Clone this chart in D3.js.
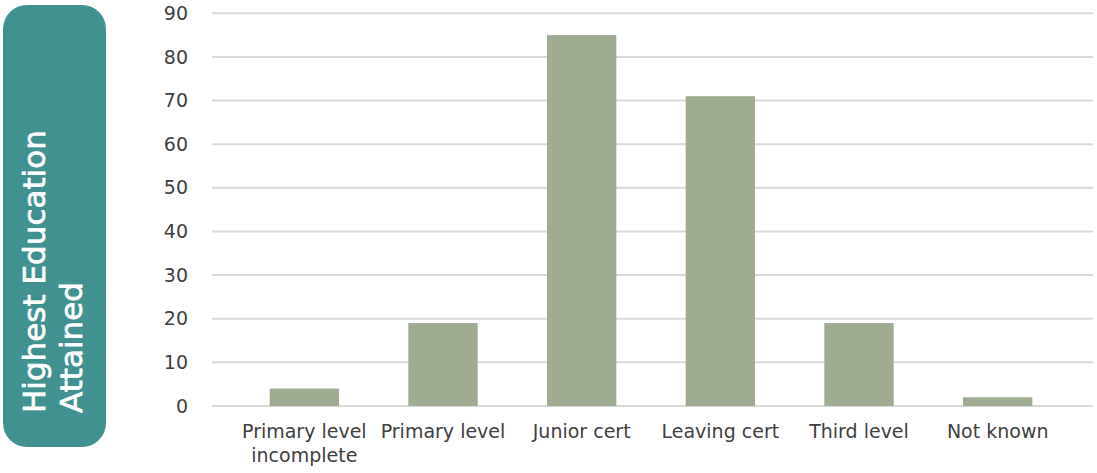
<!DOCTYPE html>
<html>
<head>
<meta charset="utf-8">
<script src="https://cdn.jsdelivr.net/npm/d3@7"></script>
<style>
  html, body { margin: 0; padding: 0; background: #ffffff; }
  svg { display: block; }
</style>
</head>
<body>
<svg id="chart" width="1097" height="473"></svg>
<script>
// Education levels and counts
const categories = [
  ["Primary level", "incomplete"],
  ["Primary level"],
  ["Junior cert"],
  ["Leaving cert"],
  ["Third level"],
  ["Not known"]
];
const values = [4, 19, 85, 71, 19, 2];
const yTicks = [0, 10, 20, 30, 40, 50, 60, 70, 80, 90];
const panelLines = ["Highest Education", "Attained"];

const svg = d3.select("#chart");
const font = "'DejaVu Sans', sans-serif";
const textColor = "#404040";

// Side panel with the rotated title
svg.append("rect")
  .attr("x", 3).attr("y", 5)
  .attr("width", 103).attr("height", 442)
  .attr("rx", 24).attr("ry", 24)
  .attr("fill", "#40918f");

const baselines = [45, 82];
panelLines.forEach((line, i) => {
  svg.append("text")
    .attr("transform", `translate(${baselines[i]},413) rotate(-90)`)
    .attr("font-family", font)
    .attr("font-size", 31)
    .attr("fill", "#ffffff")
    .attr("stroke", "#ffffff")
    .attr("stroke-width", 0.7)
    .text(line);
});

// Scales
const x = d3.scaleBand()
  .domain(d3.range(categories.length))
  .range([235, 1067])
  .paddingInner(0.5)
  .paddingOuter(0.25);

const y = d3.scaleLinear()
  .domain([0, 90])
  .range([406, 13.3]);

// Gridlines
const gridLeft = 212, gridRight = 1093;
svg.append("g")
  .selectAll("line")
  .data(yTicks)
  .join("line")
  .attr("x1", gridLeft).attr("x2", gridRight)
  .attr("y1", d => y(d)).attr("y2", d => y(d))
  .attr("stroke", "#d9d9d9")
  .attr("stroke-width", 2);

// Y axis labels
const yAxis = d3.axisLeft(y).tickValues(yTicks).tickSize(0).tickPadding(0);
const yg = svg.append("g")
  .attr("transform", "translate(188,0)")
  .call(yAxis);
yg.select(".domain").remove();
yg.selectAll("text")
  .attr("font-family", font)
  .attr("font-size", 19)
  .attr("fill", textColor);

// Bars
svg.append("g")
  .selectAll("rect")
  .data(values)
  .join("rect")
  .attr("x", (d, i) => x(i))
  .attr("width", x.bandwidth())
  .attr("y", d => y(d))
  .attr("height", d => y(0) - y(d))
  .attr("fill", "#9fac91");

// X axis labels
const xAxis = d3.axisBottom(x).tickSize(0).tickFormat(() => "");
const xg = svg.append("g")
  .attr("transform", `translate(0,${y(0)})`)
  .call(xAxis);
xg.select(".domain").remove();
xg.selectAll(".tick").each(function(i) {
  const t = d3.select(this).append("text")
    .attr("font-family", font)
    .attr("font-size", 19)
    .attr("fill", textColor)
    .attr("text-anchor", "middle");
  categories[i].forEach((line, j) => {
    t.append("tspan")
      .attr("x", 0)
      .attr("y", 32 + j * 24)
      .text(line);
  });
});
</script>
</body>
</html>
